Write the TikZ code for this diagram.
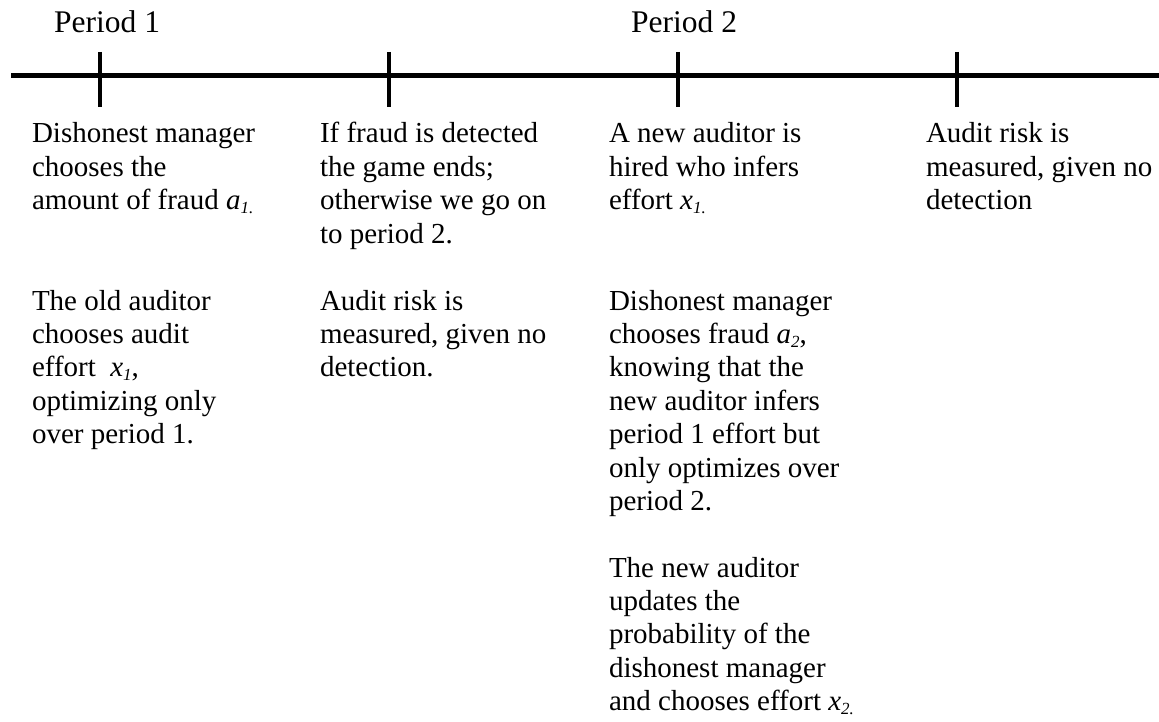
\documentclass[tikz,border=0pt]{standalone}
\usepackage{fontspec}
\setmainfont{Liberation Serif}
\newcommand{\lowidx}[1]{\raisebox{-4pt}{\fontsize{17}{17}\selectfont\itshape #1}}
\newcommand{\blocktext}[1]{\begin{tabular}[t]{@{}l@{}}#1\end{tabular}}
\tikzset{
  body/.style={anchor=base west, inner sep=0pt, outer sep=0pt,
    font=\fontsize{29}{33.4}\selectfont},
  plabel/.style={anchor=base west, inner sep=0pt, font=\fontsize{31.5}{36}\selectfont},
  axis/.style={line width=5pt},
  tickmark/.style={line width=4.5pt}
}
\begin{document}
\begin{tikzpicture}[x=1pt,y=-1pt]
\useasboundingbox (0,0) rectangle (1159,722);
% timeline
\coordinate (L) at (11,76);
\coordinate (R) at (1159,76);
\draw[axis] (L) -- (R);
\foreach \n/\xx in {1/100,2/389,3/678,4/957}{
  \coordinate (t\n top) at (\xx,52);
  \coordinate (t\n bot) at (\xx,107);
  \draw[tickmark] (t\n top) -- (t\n bot);
}
% period labels
\node[plabel] (p1) at (54,33) {Period 1};
\node[plabel] (p2) at (631,33) {Period 2};
% column 1
\node[body] (c1a) at (32,143) {\blocktext{Dishonest manager\\chooses the\\amount of fraud \textit{a}\lowidx{1.}}};
\node[body] (c1b) at (32,310) {\blocktext{The old auditor\\chooses audit\\effort\ \ \textit{x}\lowidx{1},\\optimizing only\\over period 1.}};
% column 2
\node[body] (c2a) at (320,143) {\blocktext{If fraud is detected\\the game ends;\\otherwise we go on\\to period 2.}};
\node[body] (c2b) at (320,310) {\blocktext{Audit risk is\\measured, given no\\detection.}};
% column 3
\node[body] (c3a) at (609,143) {\blocktext{A new auditor is\\hired who infers\\effort \textit{x}\lowidx{1.}}};
\node[body] (c3b) at (609,310) {\blocktext{Dishonest manager\\chooses fraud \textit{a}\lowidx{2},\\knowing that the\\new auditor infers\\period 1 effort but\\only optimizes over\\period 2.}};
\node[body] (c3c) at (609,577) {\blocktext{The new auditor\\updates the\\probability of the\\dishonest manager\\and chooses effort \textit{x}\lowidx{2.}}};
% column 4
\node[body] (c4a) at (926,143) {\blocktext{Audit risk is\\measured, given no\\detection}};
\end{tikzpicture}
\end{document}
